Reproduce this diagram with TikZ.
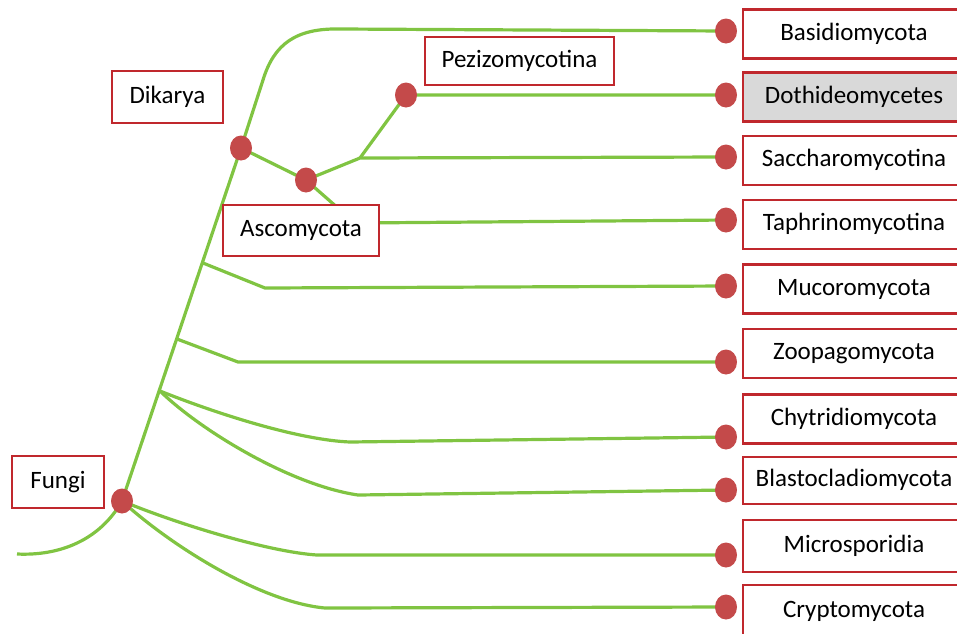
\documentclass[tikz,border=0pt]{standalone}
\usepackage{fontspec}
\setmainfont{Carlito}
\usetikzlibrary{backgrounds,shapes.geometric}
\definecolor{brgreen}{RGB}{128,196,66}
\definecolor{brred}{RGB}{192,40,45}
\definecolor{dotred}{RGB}{196,74,74}
\definecolor{boxgray}{RGB}{217,217,217}
\begin{document}
\begin{tikzpicture}[x=1pt,y=-1pt,
  branch/.style={draw=brgreen,line width=3.2pt,line join=round},
  dotnode/.style={ellipse,fill=dotred,minimum width=22pt,minimum height=25pt,inner sep=0pt},
  taxon/.style={draw=brred,line width=2.5pt,fill=white,minimum height=49pt,inner sep=0pt,
    font=\fontsize{25}{30}\selectfont,text height=17pt,text depth=5pt},
  leaf/.style={taxon,minimum width=222pt},
]
\useasboundingbox (0,0) rectangle (957,633);
\clip (0,0) rectangle (957,633);

% leaf boxes
\node[leaf] (bBas) at (854,34) {Basidiomycota};
\node[leaf,fill=boxgray] (bDot) at (854,97) {Dothideomycetes};
\node[leaf] (bSac) at (854,160.5) {Saccharomycotina};
\node[leaf] (bTap) at (854,224.5) {Taphrinomycotina};
\node[leaf] (bMuc) at (854,289) {Mucoromycota};
\node[leaf] (bZoo) at (854,353.5) {Zoopagomycota};
\node[leaf] (bChy) at (854,419) {Chytridiomycota};
\node[leaf,minimum height=47pt] (bBla) at (854,480.5) {Blastocladiomycota};
\node[leaf,minimum height=52pt] (bMic) at (854,546) {Microsporidia};
\node[leaf,minimum height=52pt] (bCry) at (854,611) {Cryptomycota};

% clade boxes
\node[taxon,minimum width=111pt,minimum height=52pt] (lDik) at (167.5,97) {Dikarya};
\node[taxon,minimum width=156pt,minimum height=51pt] (lAsc) at (301,230.5) {Ascomycota};
\node[taxon,minimum width=189pt,minimum height=48pt] (lPez) at (519.5,61) {Pezizomycotina};
\node[taxon,minimum width=92pt,minimum height=52pt] (lFun) at (58,482) {Fungi};

% dots
\node[dotnode] (dBas) at (726,31) {};
\node[dotnode] (dDot) at (726,95) {};
\node[dotnode] (dSac) at (726,157) {};
\node[dotnode] (dTap) at (726,220) {};
\node[dotnode] (dMuc) at (726,286) {};
\node[dotnode] (dZoo) at (726,362) {};
\node[dotnode] (dChy) at (726,437) {};
\node[dotnode] (dBla) at (726,490) {};
\node[dotnode] (dMic) at (726,555) {};
\node[dotnode] (dCry) at (726,607) {};

\node[dotnode] (nFun) at (122,501) {};
\node[dotnode] (nDik) at (241,148) {};
\node[dotnode] (nAsc) at (306,180) {};
\node[dotnode] (nPez) at (406,95) {};

% junction points
\coordinate (root) at (17,554);
\coordinate (jMuc) at (203,263);
\coordinate (jZoo) at (177,339);
\coordinate (jChy) at (160,391);
\coordinate (jSac) at (360,158);
\coordinate (topBend) at (263,80);

\begin{pgfonlayer}{background}
  \draw[branch] (root) .. controls (60,556) and (100,540) .. (nFun.center);
  \draw[branch] (nFun.center) -- (nDik.center) -- (topBend)
      .. controls (274,44) and (296,28) .. (340,29) -- (dBas.center);
  \draw[branch] (nDik.center) -- (nAsc.center) -- (jSac) -- (dSac.center);
  \draw[branch] (jSac) -- (nPez.center) -- (dDot.center);
  \draw[branch] (nAsc.center) -- (355,223) -- (dTap.center);
  \draw[branch] (jMuc) -- (265,288) -- (dMuc.center);
  \draw[branch] (jZoo) -- (238,362) -- (dZoo.center);
  \draw[branch] (jChy) .. controls (220,415) and (300,440) .. (350,442) -- (dChy.center);
  \draw[branch] (jChy) .. controls (200,430) and (290,485) .. (358,495) -- (dBla.center);
  \draw[branch] (nFun.center) .. controls (180,525) and (270,552) .. (317,555) -- (dMic.center);
  \draw[branch] (nFun.center) .. controls (170,545) and (260,602) .. (325,608) -- (dCry.center);
\end{pgfonlayer}
\end{tikzpicture}
\end{document}
